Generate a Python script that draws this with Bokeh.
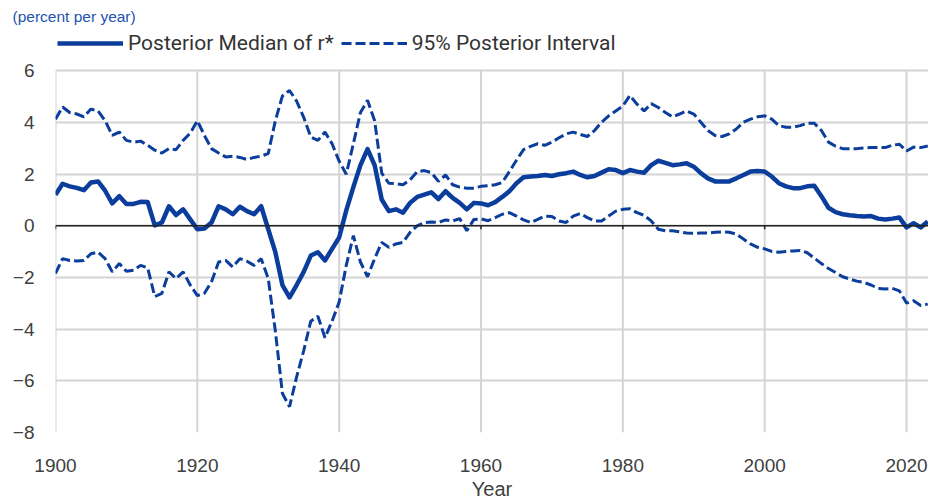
from bokeh.plotting import figure
from bokeh.models import (Range1d, FixedTicker, Legend, LegendItem, Span, Title)
from bokeh.embed import file_html
from bokeh.resources import INLINE

years = list(range(1900, 2024))

median = [1.2, 1.63, 1.53, 1.47, 1.38, 1.68, 1.72, 1.36, 0.87, 1.15,
          0.85, 0.85, 0.93, 0.92, 0.02, 0.13, 0.76, 0.42, 0.64, 0.25,
          -0.13, -0.1, 0.13, 0.76, 0.64, 0.45, 0.74, 0.57, 0.45, 0.76,
          -0.13, -1.02, -2.29, -2.77, -2.29, -1.78, -1.15, -1.02, -1.34, -0.89,
          -0.45, 0.6, 1.5, 2.35, 2.97, 2.35, 1.02, 0.57, 0.64, 0.51,
          0.89, 1.12, 1.21, 1.3, 1.04, 1.34, 1.08, 0.89, 0.64, 0.89,
          0.87, 0.8, 0.92, 1.12, 1.34, 1.65, 1.88, 1.91, 1.93, 1.97,
          1.93, 2.0, 2.04, 2.1, 1.97, 1.88, 1.93, 2.06, 2.19, 2.16,
          2.04, 2.16, 2.1, 2.06, 2.35, 2.52, 2.44, 2.35, 2.38, 2.42,
          2.29, 2.04, 1.84, 1.72, 1.72, 1.72, 1.84, 1.97, 2.1, 2.12,
          2.1, 1.91, 1.65, 1.53, 1.46, 1.46, 1.53, 1.55, 1.15, 0.7,
          0.53, 0.45, 0.41, 0.38, 0.36, 0.38, 0.28, 0.25, 0.28, 0.32,
          -0.06, 0.1, -0.06, 0.17]

upper = [4.13, 4.6, 4.39, 4.33, 4.22, 4.52, 4.45, 4.07, 3.5, 3.63,
         3.31, 3.24, 3.28, 3.12, 2.93, 2.82, 2.99, 2.95, 3.31, 3.59,
         4.07, 3.5, 2.99, 2.82, 2.67, 2.7, 2.65, 2.57, 2.65, 2.7,
         2.8, 4.07, 5.03, 5.24, 4.83, 4.2, 3.44, 3.31, 3.63, 3.18,
         2.5, 2.0, 3.18, 4.39, 4.86, 4.07, 2.04, 1.65, 1.63, 1.59,
         1.78, 2.1, 2.14, 2.06, 1.72, 1.97, 1.59, 1.5, 1.46, 1.46,
         1.53, 1.55, 1.59, 1.68, 2.1, 2.54, 2.95, 3.08, 3.18, 3.12,
         3.24, 3.41, 3.56, 3.63, 3.54, 3.46, 3.69, 4.01, 4.26, 4.45,
         4.64, 5.05, 4.71, 4.45, 4.73, 4.58, 4.39, 4.22, 4.33, 4.45,
         4.33, 4.01, 3.69, 3.5, 3.46, 3.56, 3.75, 4.01, 4.13, 4.22,
         4.26, 4.13, 3.88, 3.82, 3.82, 3.88, 3.97, 3.97, 3.69, 3.24,
         3.08, 2.99, 2.99, 2.99, 3.02, 3.03, 3.03, 3.03, 3.12, 3.16,
         2.9, 3.05, 3.03, 3.09]

lower = [-1.84, -1.27, -1.34, -1.36, -1.34, -1.08, -1.02, -1.27, -1.78, -1.46,
         -1.76, -1.72, -1.53, -1.63, -2.74, -2.61, -1.78, -2.04, -1.78, -2.29,
         -2.7, -2.61, -2.16, -1.4, -1.34, -1.59, -1.27, -1.37, -1.53, -1.27,
         -2.04, -4.07, -6.49, -7.0, -5.85, -4.83, -3.69, -3.5, -4.33, -3.69,
         -2.95, -1.53, -0.38, -1.4, -1.97, -1.27, -0.64, -0.83, -0.7, -0.64,
         -0.25, 0.0, 0.13, 0.15, 0.13, 0.23, 0.19, 0.28, -0.19, 0.25,
         0.27, 0.2, 0.32, 0.45, 0.51, 0.38, 0.23, 0.13, 0.25, 0.38,
         0.36, 0.19, 0.13, 0.38, 0.48, 0.32, 0.19, 0.19, 0.38, 0.57,
         0.64, 0.66, 0.51, 0.41, 0.19, -0.13, -0.19, -0.19, -0.23, -0.28,
         -0.29, -0.28, -0.28, -0.25, -0.23, -0.25, -0.32, -0.51, -0.7, -0.83,
         -0.89, -0.99, -1.02, -0.99, -0.97, -0.95, -1.04, -1.25, -1.46, -1.65,
         -1.81, -1.97, -2.06, -2.14, -2.19, -2.29, -2.42, -2.44, -2.42, -2.52,
         -2.99, -2.9, -3.08, -3.03]

x_ticks = [1900, 1920, 1940, 1960, 1980, 2000, 2020]
y_ticks = [-8, -6, -4, -2, 0, 2, 4, 6]

BLUE = "#0b3d9c"
GRID = "#d4d4d4"
TXT = "#404040"
DASH = "10 4"

# frame top is raised above y=6 to leave room for the legend row
p = figure(width=928, height=502, output_backend="svg", toolbar_location=None,
           x_range=Range1d(1900, 2023.1), y_range=Range1d(-8, 7.602),
           min_border_left=55, min_border_right=0, min_border_top=28,
           min_border_bottom=65, title=None)
p.outline_line_color = None

p.xaxis.ticker = FixedTicker(ticks=x_ticks)
p.yaxis.ticker = FixedTicker(ticks=y_ticks)
for ax in (p.xaxis[0], p.yaxis[0]):
    ax.axis_line_color = None
    ax.major_tick_line_color = None
    ax.minor_tick_line_color = None
    ax.major_tick_out = 0
    ax.major_tick_in = 0
    ax.major_label_text_font = "Liberation Sans"
    ax.major_label_text_font_size = "19px"
    ax.major_label_text_color = TXT
p.xaxis.major_label_standoff = 26
p.yaxis.major_label_standoff = 21
p.xaxis.axis_label = "Year"
p.xaxis.axis_label_text_font = "Liberation Sans"
p.xaxis.axis_label_text_font_style = "normal"
p.xaxis.axis_label_text_font_size = "20px"
p.xaxis.axis_label_text_color = TXT
p.xaxis.axis_label_standoff = 3

# grid: horizontal at y ticks, vertical at x ticks spanning the y tick range
p.xgrid.visible = False
p.ygrid.grid_line_color = GRID
p.ygrid.grid_line_width = 2
p.segment(x0=x_ticks, x1=x_ticks, y0=[y_ticks[0]] * len(x_ticks),
          y1=[y_ticks[-1]] * len(x_ticks), line_color=GRID, line_width=2)

p.add_layout(Span(location=0, dimension="width", line_color="#222222", line_width=1.5))
p.segment(x0=x_ticks, x1=x_ticks, y0=[0] * len(x_ticks), y1=[-0.13] * len(x_ticks),
          line_color="#222222", line_width=1.5)

r_med = p.line(years, median, line_color=BLUE, line_width=4.5, line_join="round")
r_up = p.line(years, upper, line_color=BLUE, line_width=3, line_dash=DASH)
p.line(years, lower, line_color=BLUE, line_width=3, line_dash=DASH)

legend = Legend(items=[LegendItem(label="Posterior Median of r*", renderers=[r_med]),
                       LegendItem(label="95% Posterior Interval", renderers=[r_up])],
                orientation="horizontal", location=(2, 377),
                label_text_font="Roboto", label_text_font_size="21px",
                label_text_color="#333333", glyph_width=66, glyph_height=24,
                label_standoff=5, spacing=7, padding=0, margin=0,
                border_line_color=None, background_fill_alpha=0)
p.add_layout(legend, "center")

t = Title(text="(percent per year)", text_font="Liberation Sans", text_font_size="15.5px",
          text_font_style="normal", text_color="#2452b0", align="left", offset=-43)
p.add_layout(t, "above")

open("out.html", "w").write(file_html(p, INLINE))
